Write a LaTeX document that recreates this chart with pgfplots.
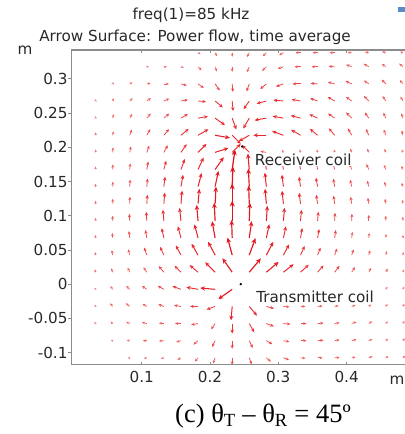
\documentclass[border=0pt]{standalone}
\usepackage{fontspec}
\setmainfont{DejaVu Sans}
\newfontfamily\capfont{Liberation Serif}
\usepackage{pgfplots}
\pgfplotsset{compat=1.18}
\usetikzlibrary{arrows.meta}
\definecolor{txt}{RGB}{40,40,40}
\definecolor{frame}{RGB}{140,140,140}
\definecolor{icon}{RGB}{90,140,200}
\newcommand{\ft}{\fontsize{15.2bp}{18bp}\selectfont}
\begin{document}
\begin{tikzpicture}
\useasboundingbox (0bp,0bp) rectangle (405bp,434bp);
\begin{axis}[
  at={(71bp,69bp)}, anchor=south west,
  scale only axis, width=334bp, height=315bp,
  xmin=-0.0035, xmax=0.4855, ymin=-0.118, ymax=0.342,
  axis line style={draw=none},
  xtick={0.1,0.2,0.3,0.4}, xticklabels={0.1,0.2,0.3,0.4},
  ytick={-0.1,-0.05,0,0.05,0.1,0.15,0.2,0.25,0.3},
  yticklabels={-0.1,-0.05,0,0.05,0.1,0.15,0.2,0.25,0.3},
  ytick pos=left,
  tick align=inside,
  major tick length=3bp,
  tick style={frame, line width=0.8bp},
  ytick style={xshift=-3bp},
  ticklabel style={font=\ft, text=txt},
  xticklabel style={yshift=-3bp},
  colormap={arr}{rgb255=(244,140,140) rgb255=(234,50,55) rgb255=(224,18,28)},
  point meta min=0, point meta max=20,
]
\addplot[
  point meta={sqrt(\thisrow{u}*\thisrow{u}+\thisrow{v}*\thisrow{v})},
  quiver={u=\thisrow{u}, v=\thisrow{v}, scale arrows=0.001464, colored,
    every arrow/.append style={line width={0.5bp+0.75bp*\pgfplotspointmetatransformed/1000}}},
  -{Stealth[length=0pt 4.5,width=0pt 4]},
] table {
x y u v
.1825 .338 2.6 -1.5
.2075 .338 2.0 -3.5
.2325 .338 0 -4
.2575 .338 -2.5 -4.3
.2825 .338 -3.5 -3.5
.3075 .338 -4.3 -2.5
.3325 .338 -5 0
.3575 .338 -5 0
.3825 .338 -5 0
.4075 .338 -4.0 0.3
.4325 .338 -3.9 0.7
.4575 .338 -3.9 1.0
.4825 .338 -2.8 1.0
.1075 .3175 1.9 0.7
.1325 .3175 3 0
.1575 .3175 2.8 -1.0
.1825 .3175 3.5 -3.5
.2075 .3175 1.7 -4.7
.2325 .3175 0 -5
.2575 .3175 -2.5 -5.4
.2825 .3175 -4.2 -4.2
.3075 .3175 -5.6 -2.1
.3325 .3175 -6 0
.3575 .3175 -6 0
.3825 .3175 -6.0 0.5
.4075 .3175 -5.6 2.1
.4325 .3175 -5.2 3.0
.4575 .3175 -4.1 2.9
.4825 .3175 -3.8 3.2
.0575 .2925 1.0 1.7
.0825 .2925 2.6 1.5
.1075 .2925 3.9 0.7
.1325 .2925 5 0
.1575 .2925 5.8 -1.6
.1825 .2925 5.7 -4.0
.2075 .2925 4.6 -6.6
.2325 .2925 0.7 -8.0
.2575 .2925 -2.7 -7.5
.2825 .2925 -6.1 -5.1
.3075 .2925 -7.5 -2.7
.3325 .2925 -8 0
.3575 .2925 -7.0 0.6
.3825 .2925 -6.8 1.8
.4075 .2925 -6.3 3.0
.4325 .2925 -4.9 3.4
.4575 .2925 -4.2 4.2
.4825 .2925 -3.2 3.8
.0325 .2675 0.3 2.0
.0575 .2675 1.0 2.8
.0825 .2675 2.8 2.8
.1075 .2675 4.1 2.9
.1325 .2675 5.4 2.5
.1575 .2675 6.9 1.2
.1825 .2675 8.0 -0.7
.2075 .2675 7.7 -6.4
.2325 .2675 0.9 -10
.2575 .2675 -5.7 -8.2
.2825 .2675 -9.7 -2.6
.3075 .2675 -10 0.9
.3325 .2675 -8.9 1.6
.3575 .2675 -7.5 2.7
.3825 .2675 -6.9 4.0
.4075 .2675 -5.7 4.0
.4325 .2675 -4.9 4.9
.4575 .2675 -3.4 4.9
.4825 .2675 -2.5 4.3
.0325 .2425 0.2 2.0
.0575 .2425 1.0 3.9
.0825 .2425 2.5 4.3
.1075 .2425 3.9 4.6
.1325 .2425 5.4 4.5
.1575 .2425 6.9 4.0
.1825 .2425 9.9 1.7
.2075 .2425 9.8 -6.9
.2325 .2425 4.1 -11.3
.2575 .2425 -6.0 -10.4
.2825 .2425 -11.8 -2.1
.3075 .2425 -10.8 1.9
.3325 .2425 -9.7 2.6
.3575 .2425 -8.2 3.8
.3825 .2425 -6.6 4.6
.4075 .2425 -5.7 5.7
.4325 .2425 -4.0 5.7
.4575 .2425 -2.5 5.4
.4825 .2425 -1.7 4.7
.0325 .2175 0.1 3.0
.0575 .2175 0.7 3.9
.0825 .2175 2.1 5.6
.1075 .2175 3.5 6.1
.1325 .2175 5.1 6.1
.1575 .2175 7.7 6.4
.1825 .2175 10.4 6.0
.2075 .2175 14.8 -2.6
.2325 .2175 8.5 -8.5
.2575 .2175 -10.4 -6.0
.2825 .2175 -13 0
.3075 .2175 -11.3 4.1
.3325 .2175 -9.5 5.5
.3575 .2175 -7.7 6.4
.3825 .2175 -5.8 6.9
.4075 .2175 -4.0 6.9
.4325 .2175 -3.0 6.3
.4575 .2175 -2.1 5.6
.4825 .2175 -1.3 4.8
.0325 .1925 0.1 3.0
.0575 .1925 0.4 5.0
.0825 .1925 1.2 5.9
.1075 .1925 2.4 6.6
.1325 .1925 3.8 7.1
.1575 .1925 5.7 8.2
.1825 .1925 8.5 8.5
.2075 .1925 13.3 4.3
.2325 .1925 8.5 8.5
.2575 .1925 -7.1 7.1
.2825 .1925 -5.9 1.0
.3075 .1925 -1.5 2.6
.3325 .1925 -1.0 2.8
.3575 .1925 -0.8 2.9
.3825 .1925 -0.5 3.0
.4075 .1925 -1.4 3.8
.4325 .1925 -1.7 3.6
.4575 .1925 -1.6 3.4
.4825 .1925 -1.3 2.8
.0325 .1675 0 3
.0575 .1675 0.2 5.0
.0825 .1675 0.5 6.0
.1075 .1675 1.4 7.9
.1325 .1675 2.3 8.7
.1575 .1675 3.8 10.3
.1825 .1675 5.5 11.8
.2075 .1675 8.6 12.3
.2325 .1675 2.8 19.8
.2575 .1675 -1.4 15.9
.2825 .1675 -2.1 11.8
.3075 .1675 -1.7 9.8
.3325 .1675 -1.6 8.9
.3575 .1675 -1.4 7.9
.3825 .1675 -1.8 6.8
.4075 .1675 -2.1 5.6
.4325 .1675 -2.5 5.4
.4575 .1675 -2.1 4.5
.4825 .1675 -1.7 3.6
.0325 .1425 0 3
.0575 .1425 0.2 5.0
.0825 .1425 0.4 7.0
.1075 .1425 0.7 8.0
.1325 .1425 1.2 9.9
.1575 .1425 2.1 11.8
.1825 .1425 3.6 13.5
.2075 .1425 3.3 15.6
.2325 .1425 0.7 20.0
.2575 .1425 -0.9 18.0
.2825 .1425 -1.5 13.9
.3075 .1425 -1.5 11.9
.3325 .1425 -1.4 9.9
.3575 .1425 -1.6 8.9
.3825 .1425 -1.4 7.9
.4075 .1425 -1.6 6.8
.4325 .1425 -1.6 5.8
.4575 .1425 -1.5 4.8
.4825 .1425 -1.4 3.8
.0325 .1175 0 3
.0575 .1175 0.1 5.0
.0825 .1175 0.2 7.0
.1075 .1175 0.5 9.0
.1325 .1175 0.8 11.0
.1575 .1175 1.1 13.0
.1825 .1175 1.3 14.9
.2075 .1175 0.9 17.0
.2325 .1175 0 20
.2575 .1175 -0.6 18.0
.2825 .1175 -1.3 14.9
.3075 .1175 -1.4 12.9
.3325 .1175 -1.3 10.9
.3575 .1175 -1.3 8.9
.3825 .1175 -1.1 7.9
.4075 .1175 -1.2 6.9
.4325 .1175 -1.0 5.9
.4575 .1175 -0.9 4.9
.4825 .1175 -0.7 3.9
.0325 .0925 -0.1 3.0
.0575 .0925 -0.2 5.0
.0825 .0925 -0.4 7.0
.1075 .0925 -0.6 9.0
.1325 .0925 -1.0 11.0
.1575 .0925 -1.4 12.9
.1825 .0925 -1.4 15.9
.2075 .0925 -0.9 18.0
.2325 .0925 0 20
.2575 .0925 0.6 18.0
.2825 .0925 1.0 15.0
.3075 .0925 1.1 13.0
.3325 .0925 1.0 11.0
.3575 .0925 0.8 9.0
.3825 .0925 0.4 8.0
.4075 .0925 0.2 7.0
.4325 .0925 0 6
.4575 .0925 -0.2 5.0
.4825 .0925 -0.3 4.0
.0325 .0675 -0.3 3.0
.0575 .0675 -0.4 5.0
.0825 .0675 -0.9 6.9
.1075 .0675 -1.4 7.9
.1325 .0675 -2.2 9.7
.1575 .0675 -3.1 11.6
.1825 .0675 -3.6 13.5
.2075 .0675 -3.0 16.7
.2325 .0675 -0.6 18.0
.2575 .0675 2.4 16.8
.2825 .0675 2.9 13.7
.3075 .0675 2.5 11.7
.3325 .0675 1.7 9.9
.3575 .0675 1.6 8.9
.3825 .0675 1.1 7.9
.4075 .0675 0.7 6.0
.4325 .0675 0.4 5.0
.4575 .0675 0.1 4.0
.4825 .0675 0 3
.0325 .0425 -0.5 3.0
.0575 .0425 -0.9 4.9
.0825 .0425 -1.6 5.8
.1075 .0425 -2.7 7.5
.1325 .0425 -3.8 8.2
.1575 .0425 -5.2 9.7
.1825 .0425 -6.5 11.3
.2075 .0425 -7.0 13.2
.2325 .0425 -4.7 17.4
.2575 .0425 6.2 16.9
.2825 .0425 7.0 13.2
.3075 .0425 5.6 10.6
.3325 .0425 4.2 9.1
.3575 .0425 3.0 7.4
.3825 .0425 2.4 6.6
.4075 .0425 1.9 5.7
.4325 .0425 1.3 4.8
.4575 .0425 0.8 3.9
.4825 .0425 0.5 3.0
.0325 .0175 -0.8 2.9
.0575 .0175 -1.4 3.8
.0825 .0175 -2.1 4.5
.1075 .0175 -3.4 4.9
.1325 .0175 -5.1 6.1
.1575 .0175 -6.4 6.4
.1825 .0175 -8.4 7.1
.2075 .0175 -9.9 9.9
.2325 .0175 -9.8 13.9
.2575 .0175 11.6 13.8
.2825 .0175 12.3 10.3
.3075 .0175 10.2 8.0
.3325 .0175 8.2 7.4
.3575 .0175 6.0 6.7
.3825 .0175 4.9 6.3
.4075 .0175 3.2 5.1
.4325 .0175 2.3 4.4
.4575 .0175 1.7 3.6
.4825 .0175 1.1 2.8
.0325 -.0075 -1.0 1.7
.0575 -.0075 -2.3 3.3
.0825 -.0075 -3.5 3.5
.1075 -.0075 -4.9 3.4
.1325 -.0075 -6.1 3.5
.1575 -.0075 -8.5 3.1
.1825 -.0075 -11.8 2.1
.2075 -.0075 -14.9 1.3
.2325 -.0075 -13.9 -9.8
.4575 -.0075 1.5 2.6
.4825 -.0075 1.3 2.7
.0325 -.0325 -1.0 1.7
.0575 -.0325 -2.6 3.1
.0825 -.0325 -3.8 3.2
.1075 -.0325 -4.3 2.5
.1325 -.0325 -5.6 2.1
.1575 -.0325 -6.9 1.2
.1825 -.0325 -8 0
.2075 -.0325 -8.5 -3.1
.2325 -.0325 -1.2 -13.9
.2575 -.0325 7.7 -9.2
.2825 -.0325 7.7 -2.1
.3075 -.0325 6.0 -0.5
.3325 -.0325 5 0
.3575 -.0325 5.0 0.4
.3825 -.0325 3.9 0.7
.4075 -.0325 3.8 1.4
.4325 -.0325 2.3 1.9
.4575 -.0325 1.7 2.5
.4825 -.0325 1.5 2.6
.0325 -.0575 -1.3 1.5
.0575 -.0575 -2.3 1.9
.0825 -.0575 -3.6 1.7
.1075 -.0575 -4.8 1.3
.1325 -.0575 -5.0 0.4
.1575 -.0575 -6 0
.1825 -.0575 -6.9 -1.2
.2075 -.0575 -4.0 -5.7
.2325 -.0575 0 -10
.2575 -.0575 5.0 -8.7
.2825 -.0575 7.5 -2.7
.3075 -.0575 7.0 -0.6
.3325 -.0575 6 0
.3575 -.0575 6.0 0.5
.3825 -.0575 4.9 0.9
.4075 -.0575 4.7 1.7
.4325 -.0575 3.3 2.3
.4575 -.0575 1.9 2.3
.4825 -.0575 1.5 2.6
.0575 -.0825 -1.9 0.7
.0825 -.0825 -3.0 0.5
.1075 -.0825 -4 0
.1325 -.0825 -5.0 -0.4
.1575 -.0825 -4.8 -1.3
.1825 -.0825 -4.6 -3.9
.2075 -.0825 -3.0 -6.3
.2325 -.0825 0 -8
.2575 -.0825 3.4 -7.3
.2825 -.0825 6.1 -3.5
.3075 -.0825 5.9 -1.0
.3325 -.0825 6 0
.3575 -.0825 6.0 0.5
.3825 -.0825 4.9 0.9
.4075 -.0825 4.8 1.3
.4325 -.0825 3.6 1.7
.4575 -.0825 2.3 1.9
.4825 -.0825 1.9 2.3
.0825 -.1075 -2 0
.1075 -.1075 -3.0 -0.5
.1325 -.1075 -2.8 -1.0
.1575 -.1075 -3.5 -2.0
.1825 -.1075 -3.2 -3.8
.2075 -.1075 -2.1 -5.6
.2325 -.1075 0 -7
.2575 -.1075 2.4 -6.6
.2825 -.1075 4.6 -3.9
.3075 -.1075 5.6 -2.1
.3325 -.1075 5.0 -0.4
.3575 -.1075 5 0
.3825 -.1075 5.0 0.4
.4075 -.1075 3.9 0.7
.4325 -.1075 3.8 1.4
.4575 -.1075 2.6 1.5
.4825 -.1075 2.3 1.9
};
\addplot[only marks, mark=*, mark size=1bp, black] coordinates {(0.247,0.201) (0.245,0)};
\node[anchor=west, fill=white, inner sep=1bp, text=txt, font=\ft] at (axis cs:0.264,0.182) {Receiver coil};
\node[anchor=west, fill=white, inner sep=1bp, text=txt, font=\ft] at (axis cs:0.266,-0.0185) {Transmitter coil};
\draw[frame, line width=1.2bp] (rel axis cs:1,1) -- (rel axis cs:0,1) -- (rel axis cs:0,0) -- (rel axis cs:1,0);
\end{axis}
\node[font=\ft, text=txt] at (191bp,419bp) {freq(1)=85 kHz};
\node[font=\ft, text=txt] at (195bp,397bp) {Arrow Surface: Power flow, time average};
\node[font=\ft, text=txt] at (25bp,384bp) {m};
\node[font=\ft, text=txt] at (397bp,54bp) {m};
\node[font=\capfont\fontsize{26.5bp}{30bp}\selectfont, text=black] at (263bp,18bp) {(c) θ\textsubscript{T} – θ\textsubscript{R} = 45º};
\fill[icon] (398bp,422bp) rectangle (405bp,427bp);
\end{tikzpicture}
\end{document}
